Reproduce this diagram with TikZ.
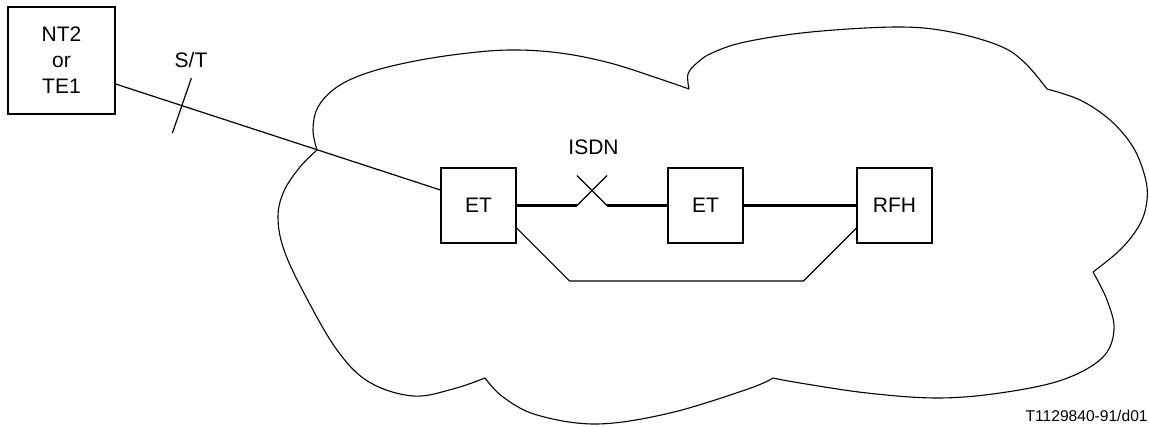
\documentclass[tikz,border=0pt]{standalone}
\usepackage{fontspec}
\setmainfont{Liberation Sans}
\usetikzlibrary{calc}
\begin{document}
\begin{tikzpicture}[x=0.5pt,y=-0.5pt,
  box/.style={draw,line width=0.6pt,minimum width=37.5pt,minimum height=37.5pt,
              inner sep=0pt,align=center,font=\fontsize{10.5}{13}\selectfont},
  lbl/.style={inner sep=0pt,font=\fontsize{10.5}{13}\selectfont},
  link/.style={line width=0.6pt},
  trunk/.style={line width=1.1pt},
  cloudline/.style={line width=0.55pt,line join=round},
  lobe/.style={smooth,tension=0.6}]
\useasboundingbox (0,0) rectangle (1149,427);

% network cloud, one smooth arc per lobe
\draw[cloudline]
  plot[lobe] coordinates {(317,150) (313,130) (318,107) (337,87) (367,73) (410,62)
      (460,54) (510,50) (560,53) (610,63) (660,79) (689,89)}
  plot[lobe] coordinates {(689,89) (688,74) (697,63) (712,53) (745,42) (811,32)
      (898,27) (951,32) (1000,46) (1025,63) (1047,89)}
  plot[lobe] coordinates {(1047,89) (1080,100) (1110,120) (1133,147) (1145,177)
      (1147,200) (1140,224) (1121,249) (1093,272)}
  plot[lobe] coordinates {(1093,272) (1107,300) (1114,330) (1102,358) (1062,380)
      (1000,393) (937,398) (867,393) (800,383) (773,378)}
  plot[lobe] coordinates {(773,378) (748,389) (670,413) (597,424) (537,415)
      (503,397) (485,378)}
  plot[lobe] coordinates {(485,378) (453,389) (413,396) (369,382) (337,350)
      (305,295) (284,250) (278,217) (284,191) (300,167) (317,150)};

% equipment
\node[box,minimum width=53.5pt,minimum height=53.5pt] (nt) at (61.5,60.5) {NT2\\or\\TE1};
\node[box] (et1) at (478.5,205.5) {ET};
\node[box] (et2) at (705.5,205.5) {ET};
\node[box] (rfh) at (894.5,205.5) {RFH};

% S/T access line with reference point tick
\coordinate (ntout) at ($(nt.east)+(0,23.5)$);
\coordinate (etin) at ($(et1.west)+(0,-15.5)$);
\draw[link] (ntout) -- (etin);
\coordinate (st) at ($(ntout)!0.204!(etin)$);
\coordinate (sta) at ($(st)+(9.5,-27.5)$);
\coordinate (stb) at ($(st)+(-9.5,27.5)$);
\draw[link] (sta) -- (stb);
\node[lbl] (stlabel) at (191,60) {S/T};

% ISDN trunk with the broken section
\coordinate (xl)  at (577,205.5);
\coordinate (xr)  at (607,205.5);
\coordinate (xlt) at (577,175.5);
\coordinate (xrt) at (607,175.5);
\draw[trunk] (et1.east) -- (xl);
\draw[link] (xl) -- (xrt);
\draw[link] (xlt) -- (xr);
\draw[trunk] (xr) -- (et2.west);
\draw[trunk] (et2.east) -- (rfh.west);
\node[lbl] (isdn) at (593.5,147) {ISDN};

% alternative route ET -> RFH
\coordinate (ra) at ($(et1.east)+(0,22.5)$);
\coordinate (rb) at ($(rfh.west)+(0,22.5)$);
\draw[link] (ra) -- ++(53,53) -- ($(rb)+(-53,53)$) -- (rb);

% figure reference
\node[inner sep=0pt,anchor=east,font=\fontsize{7.8}{9}\selectfont] (ref) at (1148,416) {T1129840-91/d01};
\end{tikzpicture}
\end{document}
